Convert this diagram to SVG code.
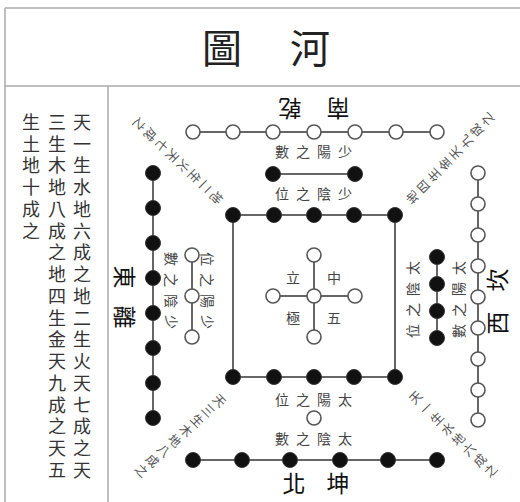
<svg xmlns="http://www.w3.org/2000/svg" width="520" height="502" viewBox="0 0 520 502">
<style>
text{font-family:"Noto Sans CJK TC","Noto Sans CJK SC",sans-serif;fill:#222}
.frame{stroke:#aaa;stroke-width:1.5;fill:none}
.ln{stroke:#666;stroke-width:2;fill:none}
.w{fill:#fff;stroke:#555;stroke-width:1.6}
.b{fill:#111;stroke:#333;stroke-width:1}
.dir{font-size:23px;text-anchor:middle;dominant-baseline:central;fill:#111}
.lab{font-size:14px;letter-spacing:7px;text-anchor:middle;dominant-baseline:central;fill:#444}
.dg{font-size:12.5px;text-anchor:middle;dominant-baseline:central;fill:#555}
.col{font-size:18px;letter-spacing:3.75px;writing-mode:vertical-rl;fill:#333}
.ctr{font-size:14px;text-anchor:middle;dominant-baseline:central;fill:#444}
</style>
<g id="frame">
<line class="frame" x1="5" y1="8" x2="520" y2="8"/>
<line class="frame" x1="5" y1="86" x2="520" y2="86"/>
<line class="frame" x1="5" y1="8" x2="5" y2="502"/>
<line class="frame" x1="108" y1="86" x2="108" y2="502"/>
</g>
<g id="title">
<text x="222" y="46" font-size="40" text-anchor="middle" dominant-baseline="central" fill="#111">圖</text>
<text x="310" y="46" font-size="40" text-anchor="middle" dominant-baseline="central" fill="#111">河</text>
</g>
<g id="sidetext">
<text class="col" x="82" y="113">天一生水地六成之地二生火天七成之天</text>
<text class="col" x="57" y="113">三生木地八成之地四生金天九成之天五</text>
<text class="col" x="31" y="113">生土地十成之</text>
</g>
<g id="connectors">
<line class="ln" x1="193" y1="132" x2="437" y2="132"/>
<line class="ln" x1="273" y1="174" x2="355" y2="174"/>
<rect class="ln" x="233" y="215" width="162" height="162"/>
<line class="ln" x1="153" y1="173" x2="153" y2="418"/>
<line class="ln" x1="192" y1="255" x2="192" y2="337"/>
<line class="ln" x1="478" y1="173" x2="478" y2="420"/>
<line class="ln" x1="437" y1="257" x2="437" y2="338"/>
<line class="ln" x1="193" y1="460" x2="437" y2="460"/>
<line class="ln" x1="314" y1="255" x2="314" y2="337"/>
<line class="ln" x1="273" y1="296" x2="355" y2="296"/>
</g>
<g id="south">
<circle class="w" cx="193" cy="132" r="7"/><circle class="w" cx="233" cy="132" r="7"/><circle class="w" cx="273" cy="132" r="7"/><circle class="w" cx="314" cy="132" r="7"/><circle class="w" cx="355" cy="132" r="7"/><circle class="w" cx="396" cy="132" r="7"/><circle class="w" cx="437" cy="132" r="7"/>
<circle class="b" cx="273" cy="174" r="7.5"/><circle class="b" cx="355" cy="174" r="7.5"/>
<text class="dir" transform="translate(290,110) rotate(180)">乾</text>
<text class="dir" transform="translate(338,110) rotate(180)">南</text>
<text class="lab" x="317" y="151">數之陽少</text>
<text class="lab" x="317" y="193">位之陰少</text>
</g>
<g id="center">
<circle class="b" cx="233" cy="215" r="7.5"/><circle class="b" cx="274" cy="215" r="7.5"/><circle class="b" cx="314" cy="215" r="7.5"/><circle class="b" cx="354" cy="215" r="7.5"/><circle class="b" cx="395" cy="215" r="7.5"/>
<circle class="b" cx="233" cy="377" r="7.5"/><circle class="b" cx="274" cy="377" r="7.5"/><circle class="b" cx="314" cy="377" r="7.5"/><circle class="b" cx="354" cy="377" r="7.5"/><circle class="b" cx="395" cy="377" r="7.5"/>
<circle class="w" cx="314" cy="255" r="7"/><circle class="w" cx="314" cy="337" r="7"/><circle class="w" cx="273" cy="296" r="7"/><circle class="w" cx="355" cy="296" r="7"/><circle class="w" cx="314" cy="296" r="7"/>
<text class="ctr" x="293" y="277">立</text>
<text class="ctr" x="334" y="277">中</text>
<text class="ctr" x="293" y="317">極</text>
<text class="ctr" x="334" y="317">五</text>
</g>
<g id="east">
<circle class="b" cx="153" cy="173" r="7.5"/><circle class="b" cx="153" cy="208" r="7.5"/><circle class="b" cx="153" cy="243" r="7.5"/><circle class="b" cx="153" cy="278" r="7.5"/><circle class="b" cx="153" cy="313" r="7.5"/><circle class="b" cx="153" cy="348" r="7.5"/><circle class="b" cx="153" cy="383" r="7.5"/><circle class="b" cx="153" cy="418" r="7.5"/>
<circle class="w" cx="192" cy="255" r="7"/><circle class="w" cx="192" cy="296" r="7"/><circle class="w" cx="192" cy="337" r="7"/>
<text class="dir" transform="translate(126,277) rotate(90)">東</text>
<text class="dir" transform="translate(126,317) rotate(90)">離</text>
<text class="lab" transform="translate(172,294) rotate(90)">數之陰少</text>
<text class="lab" transform="translate(208,294) rotate(90)">位之陽少</text>
</g>
<g id="west">
<circle class="w" cx="478" cy="173" r="7"/><circle class="w" cx="478" cy="204" r="7"/><circle class="w" cx="478" cy="235" r="7"/><circle class="w" cx="478" cy="266" r="7"/><circle class="w" cx="478" cy="297" r="7"/><circle class="w" cx="478" cy="328" r="7"/><circle class="w" cx="478" cy="359" r="7"/><circle class="w" cx="478" cy="390" r="7"/><circle class="w" cx="478" cy="420" r="7"/>
<circle class="b" cx="437" cy="257" r="7.5"/><circle class="b" cx="437" cy="284" r="7.5"/><circle class="b" cx="437" cy="311" r="7.5"/><circle class="b" cx="437" cy="338" r="7.5"/>
<text class="dir" transform="translate(496,280) rotate(-90)">坎</text>
<text class="dir" transform="translate(496,323) rotate(-90)">西</text>
<text class="lab" transform="translate(412,296) rotate(-90)">位之陰太</text>
<text class="lab" transform="translate(458,296) rotate(-90)">數之陽太</text>
</g>
<g id="north">
<circle class="b" cx="193" cy="460" r="7.5"/><circle class="b" cx="242" cy="460" r="7.5"/><circle class="b" cx="290" cy="460" r="7.5"/><circle class="b" cx="340" cy="460" r="7.5"/><circle class="b" cx="388" cy="460" r="7.5"/><circle class="b" cx="437" cy="460" r="7.5"/>
<circle class="w" cx="314" cy="418" r="7"/>
<text class="dir" x="294" y="482">北</text>
<text class="dir" x="338" y="482">坤</text>
<text class="lab" x="317" y="399">位之陽太</text>
<text class="lab" x="317" y="438">數之陰太</text>
</g>
<g id="diagonals">
<text class="dg" transform="translate(217,198) rotate(135)">地</text>
<text class="dg" transform="translate(206,187.6) rotate(135)">二</text>
<text class="dg" transform="translate(195,177.1) rotate(135)">生</text>
<text class="dg" transform="translate(184,166.7) rotate(135)">火</text>
<text class="dg" transform="translate(173,156.3) rotate(135)">天</text>
<text class="dg" transform="translate(162,145.9) rotate(135)">七</text>
<text class="dg" transform="translate(151,135.4) rotate(135)">成</text>
<text class="dg" transform="translate(140,125) rotate(135)">之</text>
<text class="dg" transform="translate(412,198) rotate(-135)">地</text>
<text class="dg" transform="translate(422.7,186.9) rotate(-135)">四</text>
<text class="dg" transform="translate(433.4,175.7) rotate(-135)">生</text>
<text class="dg" transform="translate(444.1,164.6) rotate(-135)">金</text>
<text class="dg" transform="translate(454.9,153.4) rotate(-135)">天</text>
<text class="dg" transform="translate(465.6,142.3) rotate(-135)">九</text>
<text class="dg" transform="translate(476.3,131.1) rotate(-135)">成</text>
<text class="dg" transform="translate(487,120) rotate(-135)">之</text>
<text class="dg" transform="translate(220,400) rotate(45)">天</text>
<text class="dg" transform="translate(208.9,410) rotate(45)">三</text>
<text class="dg" transform="translate(197.7,420) rotate(45)">生</text>
<text class="dg" transform="translate(186.6,430) rotate(45)">木</text>
<text class="dg" transform="translate(175.4,440) rotate(45)">地</text>
<text class="dg" transform="translate(164.3,450) rotate(45)">八</text>
<text class="dg" transform="translate(153.1,460) rotate(45)">成</text>
<text class="dg" transform="translate(142,470) rotate(45)">之</text>
<text class="dg" transform="translate(415,397) rotate(-45)">天</text>
<text class="dg" transform="translate(425.7,407.4) rotate(-45)">一</text>
<text class="dg" transform="translate(436.4,417.9) rotate(-45)">生</text>
<text class="dg" transform="translate(447.1,428.3) rotate(-45)">水</text>
<text class="dg" transform="translate(457.9,438.7) rotate(-45)">地</text>
<text class="dg" transform="translate(468.6,449.1) rotate(-45)">六</text>
<text class="dg" transform="translate(479.3,459.6) rotate(-45)">成</text>
<text class="dg" transform="translate(490,470) rotate(-45)">之</text>
</g>
</svg>
